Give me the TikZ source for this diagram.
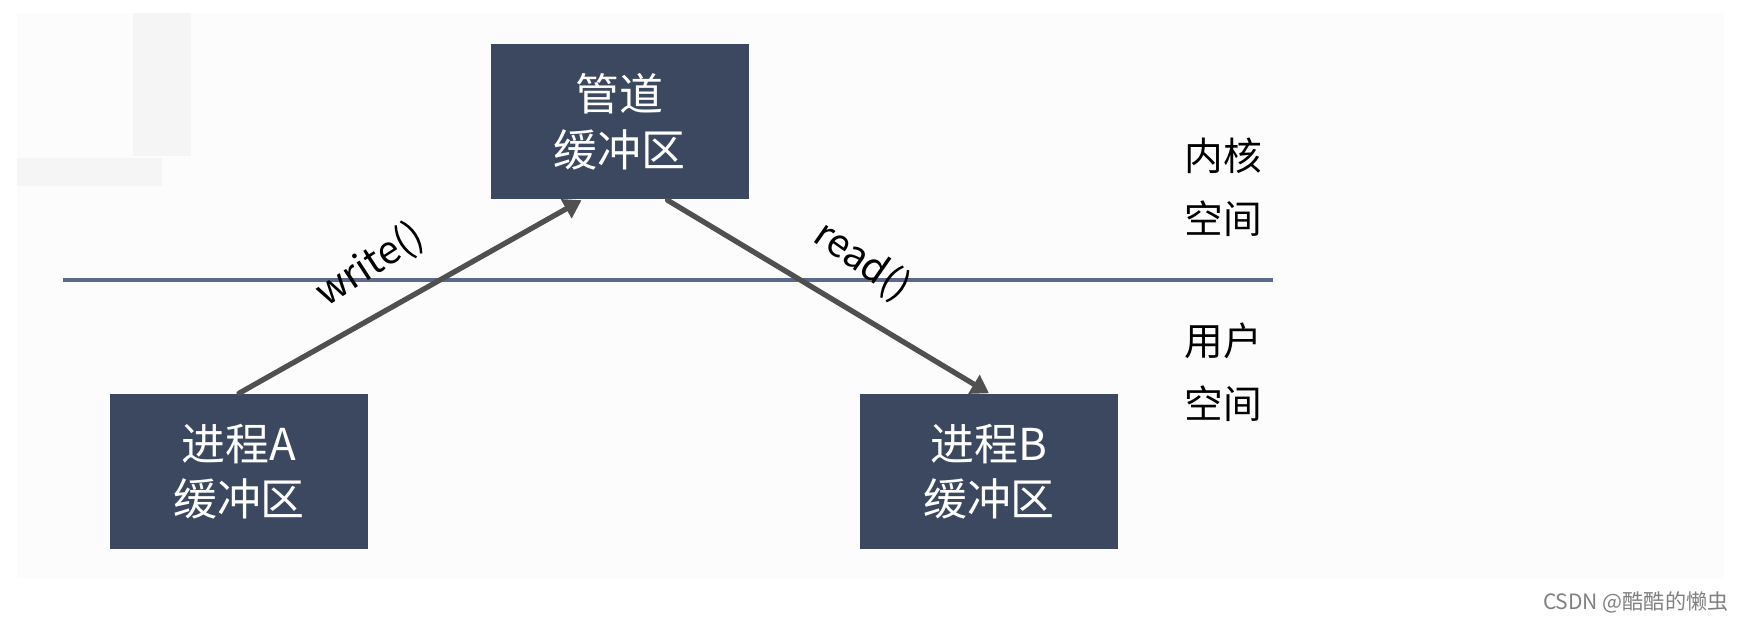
\documentclass[tikz,border=0pt]{standalone}
\usepackage{fontspec}
\setmainfont{Noto Sans CJK SC}
\usetikzlibrary{arrows.meta}
\definecolor{boxfill}{HTML}{3C4760}
\definecolor{sepline}{HTML}{5B6A88}
\definecolor{arrowgray}{HTML}{505050}
\definecolor{ghost}{HTML}{F5F5F5}
\definecolor{slide}{HTML}{FCFCFC}
\begin{document}
\begin{tikzpicture}[line cap=round, line join=round,
    buf/.style={fill=boxfill, text=white, minimum width=2.58cm, minimum height=1.55cm,
      inner sep=0pt, align=center, font=\fontsize{12.5}{15.8}\selectfont},
    space/.style={inner sep=1pt, align=center, font=\fontsize{11}{18}\selectfont},
    call/.style={inner sep=1pt, font=\fontsize{11}{12}\selectfont},
    flow/.style={line width=1.5pt, draw=arrowgray, -{Triangle[length=5pt,width=6pt]}}]
  \useasboundingbox (0,0) rectangle (17.44,-6.21);
  \fill[slide] (0.17,-0.13) rectangle (17.24,-5.78);
  \fill[ghost] (1.33,-0.13) rectangle (1.91,-1.56);
  \fill[ghost] (0.17,-1.58) rectangle (1.62,-1.86);
  \draw[sepline, line width=1.4pt, line cap=butt] (0.63,-2.80) -- (12.73,-2.80);
  \node[buf] (pp) at (6.195,-1.22) {管道\\缓冲区};
  \node[buf] (pa) at (2.39,-4.715) {进程A\\缓冲区};
  \node[buf] (pb) at (9.89,-4.715) {进程B\\缓冲区};
  \node[space] (ks) at (12.23,-1.875) {内核\\空间};
  \node[space] (us) at (12.23,-3.725) {用户\\空间};
  \draw[flow] (pa.north) -- ([xshift=-0.38cm]pp.south);
  \draw[flow] ([xshift=0.48cm]pp.south) -- (pb.north);
  \node[call, rotate=33] (wr) at (3.70,-2.65) {write()};
  \node[call, rotate=-35] (rd) at (8.62,-2.61) {read()};
  \node[text=gray, inner sep=0pt, font=\fontsize{6}{7}\selectfont, anchor=east] (wm) at (17.29,-6.02) {CSDN @酷酷的懒虫};
\end{tikzpicture}
\end{document}
